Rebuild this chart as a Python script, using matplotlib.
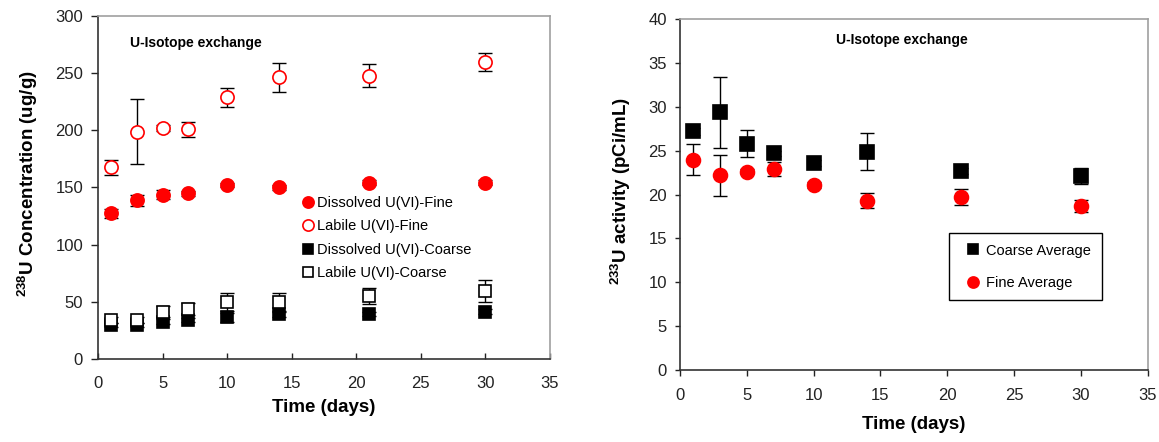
import numpy as np
import matplotlib
matplotlib.use('Agg')
import matplotlib.pyplot as plt

plt.rcParams['font.family'] = ['Liberation Sans', 'DejaVu Sans']
plt.rcParams['mathtext.fontset'] = 'custom'
plt.rcParams['mathtext.rm'] = 'Liberation Sans'
plt.rcParams['mathtext.bf'] = 'Liberation Sans:bold'

# data
days = [1, 3, 5, 7, 10, 14, 21, 30]

# left panel: 238U concentration (ug/g)
dissolved_fine = [127.5, 138.8, 143.7, 144.9, 152.2, 150.2, 154.2, 154.2]
dissolved_fine_err = [4, 5, 4, 2, 2, 2, 2, 2]
labile_fine = [167.6, 198.7, 202.0, 200.8, 228.7, 246.2, 247.4, 259.6]
labile_fine_err = [6.5, 28.5, 3, 6.5, 8, 12.5, 10, 8]
dissolved_coarse = [29.9, 30.0, 32.8, 34.3, 36.7, 39.3, 39.6, 41.6]
dissolved_coarse_err = [2, 2, 2, 2, 4, 2, 2, 2]
labile_coarse = [34.3, 34.3, 41.6, 43.9, 50.3, 50.3, 55.5, 59.6]
labile_coarse_err = [3, 3, 5, 5, 8, 8, 7, 9.5]

# right panel: 233U activity (pCi/mL)
coarse_avg = [27.2, 29.4, 25.8, 24.7, 23.6, 24.9, 22.7, 22.1]
coarse_avg_err = [0.4, 4.05, 1.55, 0.3, 0.3, 2.1, 0.3, 0.9]
fine_avg = [24.0, 22.2, 22.6, 22.9, 21.1, 19.3, 19.7, 18.7]
fine_avg_err = [1.75, 2.35, 0.3, 0.8, 0.3, 0.85, 0.9, 0.7]

x_ticks = [0, 5, 10, 15, 20, 25, 30, 35]

dark = '#333333'
light = '#a0a0a0'


def style_axes(ax):
    for side in ['left', 'bottom']:
        ax.spines[side].set_color(dark)
        ax.spines[side].set_linewidth(1.2)
    for side in ['top', 'right']:
        ax.spines[side].set_color(light)
        ax.spines[side].set_linewidth(1.2)
    ax.tick_params(labelsize=12, colors='#222222', width=1, top=False, right=False)
    ax.set_xlim(0, 35)
    ax.set_xticks(x_ticks)


def series(ax, y, err, marker, ms, face, edge, label, z):
    # error bars first, markers on top so they hide the bar inside
    ax.errorbar(days, y, yerr=err, fmt='none', ecolor='black', elinewidth=1,
                capsize=5, capthick=1, zorder=z)
    return ax.plot(days, y, linestyle='none', marker=marker, ms=ms, mfc=face,
                   mec=edge, mew=1.2, label=label, zorder=z + 0.5)[0]


fig = plt.figure(figsize=(11.59, 4.42), dpi=100)

# ---- left panel
ax1 = fig.add_axes([0.0846, 0.1871, 0.390, 0.7774])
style_axes(ax1)
ax1.tick_params(axis='x', direction='in', length=4, pad=12)
ax1.tick_params(axis='y', direction='out', length=4.8, pad=6)
ax1.set_ylim(0, 300)
ax1.set_yticks(np.arange(0, 301, 50))

h1 = series(ax1, dissolved_fine, dissolved_fine_err, 'o', 9.5, 'red', 'red',
            'Dissolved U(VI)-Fine', 2)
h2 = series(ax1, labile_fine, labile_fine_err, 'o', 9.5, 'white', 'red',
            'Labile U(VI)-Fine', 3)
h3 = series(ax1, dissolved_coarse, dissolved_coarse_err, 's', 9, 'black', 'black',
            'Dissolved U(VI)-Coarse', 4)
h4 = series(ax1, labile_coarse, labile_coarse_err, 's', 9, 'white', 'black',
            'Labile U(VI)-Coarse', 5)

ax1.legend([h1, h2, h3, h4], [h.get_label() for h in [h1, h2, h3, h4]],
           loc='upper left', bbox_to_anchor=(0.4513, 0.4753), frameon=False,
           fontsize=10.5, borderpad=0, borderaxespad=0, handlelength=0.8,
           handletextpad=0.25, labelspacing=0.65, markerscale=0.85)

ax1.text(0.0708, 0.9205, 'U-Isotope exchange', transform=ax1.transAxes,
         fontsize=10, fontweight='bold', va='center', ha='left')
ax1.set_xlabel('Time (days)', fontsize=13.5, fontweight='bold', labelpad=6)
ax1.set_ylabel(r'$^{\mathbf{238}}$U Concentration (ug/g)', fontsize=13.5, fontweight='bold')
ax1.yaxis.set_label_coords(-0.1283, 0.512)

# ---- right panel
ax2 = fig.add_axes([0.5867, 0.164, 0.4035, 0.7919])
style_axes(ax2)
ax2.tick_params(axis='x', direction='out', length=4.3, pad=8.7)
ax2.tick_params(axis='y', direction='out', length=3.6, pad=5.8)
ax2.set_ylim(0, 40)
ax2.set_yticks(np.arange(0, 41, 5))

g1 = series(ax2, coarse_avg, coarse_avg_err, 's', 9.5, 'black', 'black',
            'Coarse Average', 2)
g2 = series(ax2, fine_avg, fine_avg_err, 'o', 10, 'red', 'red',
            'Fine Average', 3)

leg = ax2.legend([g1, g2], ['Coarse Average', 'Fine Average'],
                 loc='upper left', bbox_to_anchor=(0.5758, 0.389),
                 fontsize=10.5, borderpad=0.7, borderaxespad=0, handlelength=1.8,
                 handletextpad=0.05, labelspacing=1.28, markerscale=0.8,
                 fancybox=False, framealpha=1)
leg.get_frame().set_edgecolor('black')
leg.get_frame().set_linewidth(1)

ax2.text(0.4747, 0.9414, 'U-Isotope exchange', transform=ax2.transAxes,
         fontsize=10, fontweight='bold', va='center', ha='center')
ax2.set_xlabel('Time (days)', fontsize=13.5, fontweight='bold', labelpad=10)
ax2.set_ylabel(r'$^{\mathbf{233}}$U activity (pCi/mL)', fontsize=13.5, fontweight='bold')
ax2.yaxis.set_label_coords(-0.1005, 0.511)

fig.savefig('out.png', dpi=100)
